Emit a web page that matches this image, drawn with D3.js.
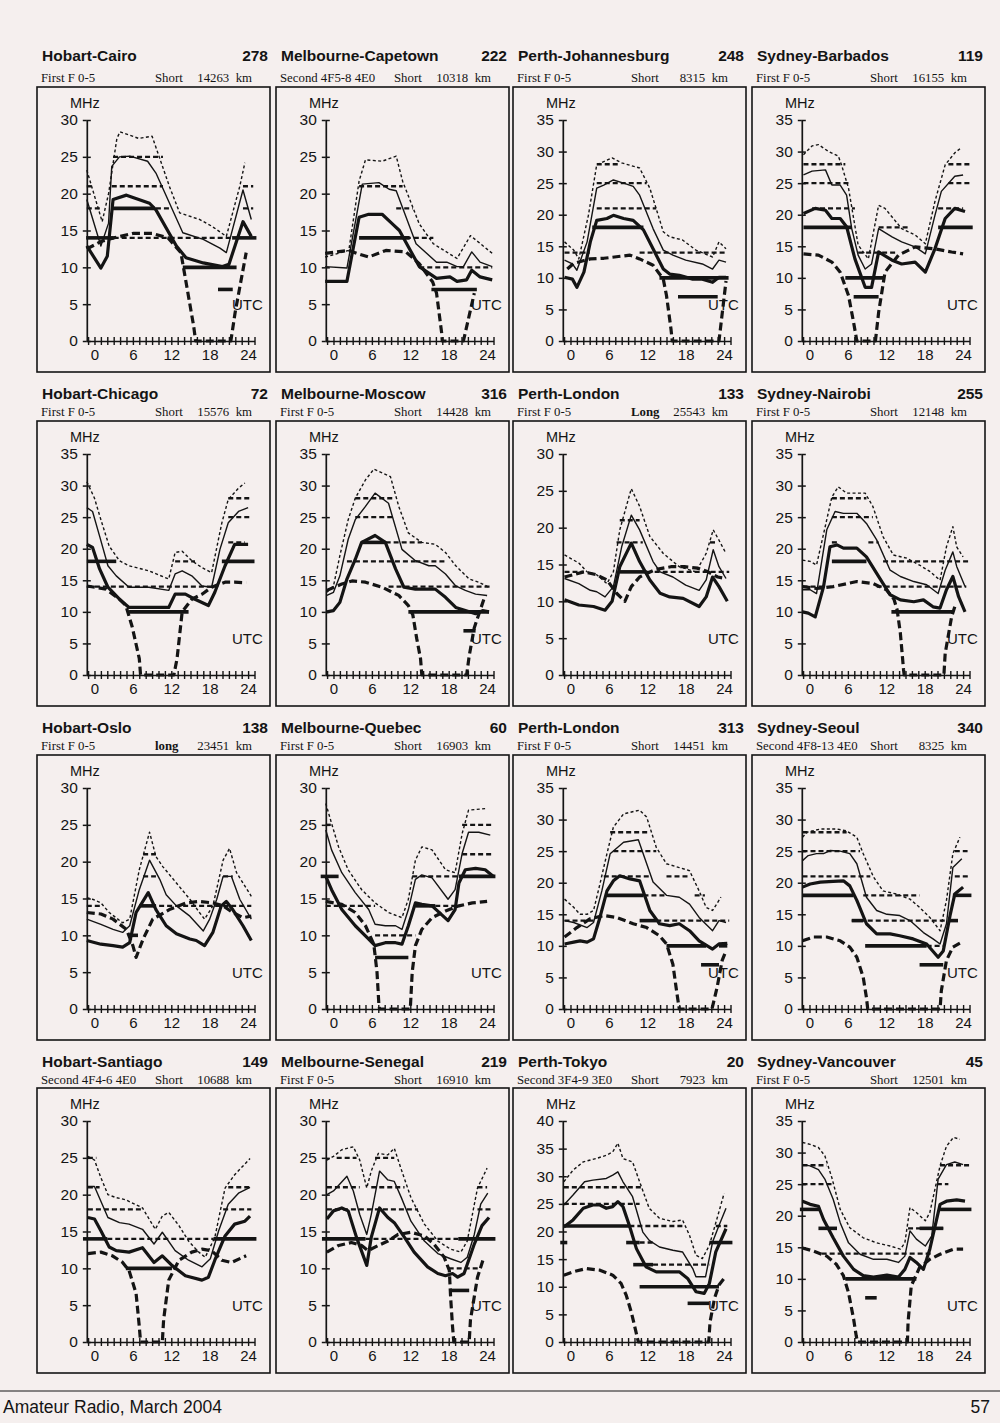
<!DOCTYPE html>
<html>
<head>
<meta charset="utf-8">
<script src="https://cdn.jsdelivr.net/npm/d3@7"></script>
<style>
  body { margin: 0; background: #f5efee; }
  svg { display: block; }
</style>
</head>
<body>
<svg id="page"></svg>
<script>
// ---- Panel labels ----
const circuits = ["Hobart-Cairo", "Melbourne-Capetown", "Perth-Johannesburg", "Sydney-Barbados",
  "Hobart-Chicago", "Melbourne-Moscow", "Perth-London", "Sydney-Nairobi",
  "Hobart-Oslo", "Melbourne-Quebec", "Perth-London", "Sydney-Seoul",
  "Hobart-Santiago", "Melbourne-Senegal", "Perth-Tokyo", "Sydney-Vancouver"]
const bearings = [278, 222, 248, 119, 72, 316, 133, 255, 138, 60, 313, 340, 149, 219, 20, 45]
const modes = ["First F 0-5", "Second 4F5-8 4E0", "First F 0-5", "First F 0-5",
  "First F 0-5", "First F 0-5", "First F 0-5", "First F 0-5",
  "First F 0-5", "First F 0-5", "First F 0-5", "Second 4F8-13 4E0",
  "Second 4F4-6 4E0", "First F 0-5", "Second 3F4-9 3E0", "First F 0-5"]
const paths = ["Short", "Short", "Short", "Short", "Short", "Short", "Long", "Short",
  "long", "Short", "Short", "Short", "Short", "Short", "Short", "Short"]
const distances = [14263, 10318, 8315, 16155, 15576, 14428, 25543, 12148,
  23451, 16903, 14451, 8325, 10688, 16910, 7923, 12501]
const yMaxes = [30, 30, 35, 35, 35, 35, 30, 35, 30, 30, 35, 35, 30, 30, 40, 35]
const hourLabels = [0, 6, 12, 18, 24]

// ---- Series: [UTC hour, MHz] ----
// thin dotted (upper)
const upperDotted = [
  [[-1.2,23.2],[1.2,16.2],[2.2,20],[3.5,27.5],[4,28.4],[6.9,27.5],[9,27.8],[11.7,21],[13.3,17.4],[16.4,16.5],[18.3,15.6],[20.6,14.2],[22.7,21],[23.5,24.2]],
  [[-1.3,11.4],[2.4,12.3],[4,21.7],[5,24.6],[7.6,24.4],[9.8,25.1],[10.8,21.7],[13.4,15.9],[15.6,13.2],[19.3,11.2],[21.4,14.3],[24.8,11.9]],
  [[-0.93,15.7],[0.5,14.4],[1.3,13],[2.8,19.9],[4.1,27.9],[6.5,29],[8,28.2],[10.8,27.4],[12.4,24.2],[14.5,17.3],[15.5,16.5],[17.5,16],[19.6,14.4],[22.2,13.3],[23.2,15.7],[24.3,14.6]],
  [[-0.94,29.5],[0.4,30.9],[1.4,31.1],[3,30],[4.5,29.3],[5,27.9],[6.1,24.2],[7.6,15.2],[9.2,13],[10.8,21.5],[11.8,21],[14.4,17.8],[16.5,16.8],[18.1,15.4],[19.6,22.1],[21.2,27.9],[22.7,29.8],[23.7,30.6]],
  [[-1.19,30.6],[0,28],[1,24.6],[2.3,20.4],[3.9,18.1],[5.4,17.3],[8.5,16.5],[11.6,15.2],[12.6,19.4],[13.7,19.6],[15.2,18.1],[16.8,17],[18.3,16.2],[19.9,24.1],[20.9,27.8],[22.5,29.6],[23.5,30.4]],
  [[-1.04,13.1],[0,14.1],[1,18.9],[2.3,24.6],[3.4,28],[5,30.9],[6.3,32.6],[7.6,32],[8.9,31.4],[10.2,26.7],[11.7,22.5],[13.8,21],[15.9,20.7],[17.5,19.4],[19.1,17.3],[21.2,15.2],[22.7,14.7],[24.3,13.9]],
  [[-0.93,16.3],[1.3,15.2],[2.6,14],[4.1,13.6],[5.7,12.4],[6.7,14],[7.7,19.7],[9.5,25.3],[10.8,22.9],[12.4,18.8],[14.5,16.5],[17,14.7],[19.6,14],[21.2,16.5],[22.3,19.7],[23.2,18.3],[24.3,16.5]],
  [[-1.09,18.2],[0.1,18],[1.1,17.4],[2.7,24.6],[3.5,28.2],[4.5,29.8],[5.8,28.8],[8.7,28.8],[9.9,26.7],[11.5,21.9],[13.1,19],[15.2,18.5],[17.2,17.4],[18.8,16.4],[20.4,15],[21.4,20.3],[22.4,23.5],[23,20.3],[24,18.7]],
  [[-1.2,15.1],[-0.3,14.9],[1,14.4],[2.3,13.1],[4.4,11.7],[5.5,12.2],[7,18.9],[8.6,24],[9.6,20.7],[10.7,19.3],[12.8,17.1],[14.9,14.9],[16.4,13.1],[17.2,12.2],[18.5,14],[20.1,20.2],[21.1,21.8],[22.2,18.5],[24.5,15.3]],
  [[-1.2,27.9],[-0.3,25.2],[0.8,22],[2.3,18.9],[4.4,16.2],[6.5,14.4],[8.6,13.1],[10.7,12.4],[11.7,14.9],[12.8,20.2],[13.8,22],[15.4,21.6],[17.5,18.9],[19,18.5],[20.1,23.8],[21.1,27],[23.7,27.2]],
  [[-0.93,17.4],[0.5,16.1],[1.5,15],[2.6,15],[3.6,15.6],[4.6,19.8],[5.7,24.6],[6.7,28.8],[8.3,30.9],[10.8,31.5],[11.9,30.4],[13.4,25.6],[15,23],[17,22.4],[18.6,21.9],[20.1,18.7],[21.2,16.1],[22.2,15.6],[23.5,17.7]],
  [[-1.09,27.2],[-0.4,28],[1.7,28.5],[4.3,28.5],[5.8,28.2],[7.4,27.2],[8.4,24.6],[10,20.9],[11.5,18.7],[13.6,18.2],[15.7,17.4],[17.2,16.1],[18.8,14.5],[20.4,12.4],[21.4,17.2],[22.4,24.6],[23.5,27.2]],
  [[-1.03,25.2],[0,24.7],[1,22.3],[2.1,20],[3.4,19.6],[4.9,19.3],[7.5,18.2],[9.5,15.3],[10.6,17.1],[11.6,17.6],[13.2,15.8],[14.7,13.7],[16.3,12.2],[17.3,11.5],[18.8,14.2],[20.4,20.9],[21.9,22.7],[24.3,24.9]],
  [[-1.03,24.7],[0,25.2],[1.3,26.1],[3.1,26.5],[4.1,24.7],[5.2,20.9],[5.9,23.2],[7,25.6],[8.5,25.4],[9.5,26.3],[10.6,23.4],[12.1,19.6],[14.2,16],[16.3,13.7],[18.3,12.6],[19.9,12.2],[20.9,13.7],[22.5,20.9],[24,23.6]],
  [[-1.04,29],[0.4,31.1],[2,32.6],[4,33.2],[5.6,33.8],[6.6,34.4],[7.4,36],[8.2,33.2],[9.7,32.6],[10.8,29],[12.3,24.2],[13.9,22.4],[16,21.8],[17.5,22.1],[18.6,19.3],[19.6,15.7],[20.6,15.1],[21.7,17.5],[23.2,23.6],[24,26.9]],
  [[-1.09,31.6],[0.1,31.3],[1.4,30.8],[2.4,29.5],[3.5,26],[4.8,21],[6.3,18.1],[8.4,16.5],[10.5,15.7],[12.6,15.2],[14.2,14.7],[14.9,15.7],[15.7,21.3],[16.7,20.5],[18.1,19.2],[18.8,20.5],[20.4,27.9],[21.4,31],[22.5,32.4],[23.5,32.1]]
]

// thin solid
const medianThin = [
  [[-1.2,19.2],[1,12.9],[2.2,16],[2.7,23.7],[3.9,25],[5.5,25.1],[8.3,24.4],[9.6,22.8],[13.8,14.7],[17,13.8],[19.6,12.6],[20.6,12],[23.2,20.5],[24.5,16.5]],
  [[-1.3,10.1],[2.1,9.9],[4.5,21.3],[7.1,21.5],[8.7,20.6],[9.8,20.4],[12.9,13.2],[16.1,10.7],[17.7,10.7],[19.3,10.1],[20.3,10.1],[21.6,12.1],[22.9,10.7],[24.8,10.1]],
  [[-0.93,12.8],[0.3,12.2],[1,11.2],[2.6,15.7],[4.1,24.2],[5.2,24.7],[6.7,25.5],[8.3,25],[9.8,24.5],[10.8,23.1],[12.9,17.8],[14.5,14.4],[16,13.6],[18,12.8],[20.6,12.2],[22.2,11.4],[23.2,12.8],[24.3,12.5]],
  [[-0.94,26.3],[0.4,26.9],[2.5,27.1],[3.5,24.7],[4.8,24.7],[5.8,23.1],[6.6,17.8],[7.6,13.6],[8.7,11.4],[9.7,12.2],[10.8,17.8],[12.9,16.5],[14.4,15.7],[16.5,14.9],[18.1,13.8],[19.6,19.9],[20.6,23.7],[22.7,26.1],[24,26.3]],
  [[-1.19,26.5],[-0.3,25.9],[0.8,22],[2.1,17.3],[3.4,15.7],[5.4,13.9],[8.5,13.9],[11.6,13.4],[12.6,16],[13.7,16.5],[15.2,15.7],[16.8,14.1],[18.3,13.9],[19.6,19.9],[20.9,24.1],[22.5,25.9],[24,26.5]],
  [[-1.04,12.6],[0,13.1],[1,15.7],[2.3,21.5],[3.4,24.6],[5,26.7],[6.5,28.8],[8.6,27.2],[10.7,19.9],[12.8,18.1],[14.9,17.3],[15.9,17.3],[17.5,16],[19.1,14.1],[20.6,13.4],[22.2,12.8],[24,12.6]],
  [[-0.93,13.1],[1.3,12.4],[3.1,11.5],[4.1,11.3],[5.4,10.6],[6.7,12],[8,17.4],[9.5,21.7],[10.8,19.7],[12.9,15.4],[14,14],[16,13.3],[18,12.2],[20.1,11.5],[21.2,12.9],[22.3,17],[23.2,14.7],[24.3,13.1]],
  [[-1.09,13.5],[0.1,13.5],[1.1,12.9],[2.7,23],[4,25.9],[5.3,25.6],[7.4,25.6],[8.9,24],[10.5,21.4],[12.6,16.6],[14.2,15.6],[16.3,14.8],[18.3,14.3],[20.1,12.9],[21.2,16.6],[22.4,19.5],[23,17.2],[24.3,14]],
  [[-1.2,12.2],[1,11.5],[2.9,10.8],[4.4,10.4],[5.5,11.3],[7,16.2],[8.6,20.2],[10.2,17.6],[11.2,15.5],[12.8,14],[14.9,12.6],[17,10.6],[18,12.2],[19.1,14.9],[20.1,18],[21.4,18],[22.7,14.9],[24.5,12.2]],
  [[-1.2,24.3],[-0.3,21.6],[1.3,18.5],[3.4,15.8],[5.5,13.5],[6.5,11.5],[8.1,11.3],[9.7,11.3],[10.7,10.8],[11.7,13.5],[12.8,17.6],[13.8,18.2],[15.4,17.8],[17.9,14.9],[19,16.2],[20.1,21.1],[21.1,24],[22.7,24],[24.5,23.6]],
  [[-0.93,14],[0.5,13.7],[2.6,12.9],[3.6,13.7],[4.9,18.7],[6.2,24.6],[8.3,26.4],[10.6,26.8],[12.9,20.1],[15,18],[17,17.7],[18.6,16.6],[20.1,14.5],[22.2,12.4],[23.2,14],[24.3,13.7]],
  [[-1.09,23.5],[-0.2,24.3],[1.1,24.6],[2.2,24.6],[3.2,25.1],[4.8,25],[6.3,24.6],[7.4,23],[8.9,17.7],[10.5,15.6],[12.1,15],[14.1,14.8],[15.7,14],[17.8,12.1],[19.3,11.1],[20.4,10.3],[21.4,13.5],[22.4,22.4],[23.8,23.8]],
  [[-1.03,21.1],[0,21.1],[1,19.1],[2.1,16.9],[3.9,16.2],[5.4,16],[7.5,15.3],[9.3,13.3],[10.6,14.9],[12.6,12.4],[14.7,11.1],[16.8,10.2],[18.1,11.3],[19.4,15.1],[20.9,18.7],[22.5,20.2],[24.3,21]],
  [[-1.03,20],[0,20.5],[2.1,22.5],[3.1,20.5],[4.1,17.3],[5.2,14.6],[5.9,17.3],[7.2,23.2],[8.5,22],[9.5,21.8],[10.6,19.6],[12.1,16.4],[14.2,13.7],[16.3,12],[18.3,11.3],[19.9,10.8],[20.9,11.5],[22,14.6],[23,18.7],[24.1,20.2]],
  [[-1.04,24.8],[0.4,26.6],[2.2,29],[3.5,29.3],[5.6,29.6],[6.6,30.2],[7.4,30.8],[8.2,29],[9.7,26.3],[11.3,19.9],[12.3,18.4],[13.9,17.2],[16,16.6],[17.5,16.3],[19.1,13.3],[19.6,11.8],[21.1,11.8],[22.2,18.1],[23.2,21.1],[24.3,24.2]],
  [[-1.09,28.1],[0.1,27.9],[1.4,27.3],[2.4,25.8],[3.7,22.6],[4.8,18.9],[6.1,15.7],[7.9,13.9],[10,13.1],[12.1,13.1],[13.9,12.6],[14.9,13.6],[15.7,17.6],[16.7,16.3],[18.1,15.2],[19.1,16.8],[20.1,25.8],[21.4,28.1],[22.7,28.5],[24,28.1]]
]

// thick solid
const thickSolid = [
  [[-1.2,12.9],[1,9.9],[2,11.5],[2.9,19.2],[5,19.8],[8.6,18.7],[9.6,17.8],[12.8,12.9],[14.3,11.3],[17,10.6],[20,10.1],[21,10.4],[23.2,16.2],[24.5,14.2]],
  [[-1.3,8.1],[2.1,8.1],[4,16.8],[5.5,17.2],[7.6,17.2],[9.2,15.9],[10.3,15],[13.4,10.1],[16.1,8.5],[18.2,8.7],[19.3,8.1],[20.8,8.3],[21.6,9.6],[22.9,8.7],[24.8,8.3]],
  [[-0.93,10.1],[0.3,9.8],[1,8.5],[2.1,10.9],[3.1,15.7],[4.1,19.1],[5.7,19.4],[6.7,19.9],[8.3,19.4],[9.8,19.1],[11.4,17.6],[12.9,14.6],[14.5,11.4],[15.5,10.6],[17,10.4],[19.1,9.8],[20.6,9.8],[22.2,9.3],[23.2,10.1],[24.3,10.1]],
  [[-0.94,20.2],[0.9,21],[2.5,20.7],[3.5,19.4],[4.8,19.4],[5.8,18.1],[7.1,13],[8.7,8.5],[9.7,8.5],[10.8,14.1],[12.9,12.8],[14.4,12.2],[16.5,12.5],[18.1,10.9],[19.6,14.6],[21.2,19.4],[22.7,21],[24.3,20.5]],
  [[-1.19,20.7],[-0.3,20.2],[0.8,16.8],[2.1,13.9],[3.9,12],[5.4,10.7],[8.5,10.7],[11.6,10.7],[12.6,12.8],[14.2,12.8],[15.7,12],[17.8,11],[18.8,13.1],[20.4,17.3],[21.9,20.7],[24,20.7]],
  [[-1.04,10],[0,10.2],[1,11.5],[2.1,15.2],[3.4,18.3],[4.4,21],[6.5,22.1],[8.1,21],[9.7,16.8],[11,13.9],[12.8,13.6],[15.9,13.6],[17.5,12.3],[19.1,10.7],[20.6,10.2],[22.2,9.7],[23.3,10.2],[24.3,10]],
  [[-0.93,10.2],[1.3,9.5],[3.6,9.3],[5.4,8.8],[6.5,10],[7.7,14.7],[9.5,17.9],[10.8,15.4],[12.4,12.9],[14,11.1],[15.5,10.6],[17.6,10.4],[20.1,9.3],[21.2,10.6],[22.2,13.3],[23.2,12],[24.5,10]],
  [[-1.09,10],[-0.2,9.8],[0.9,9.2],[2.2,14],[3.2,20.3],[4.3,20.6],[5.3,20.1],[7.4,20.1],[8.9,18.7],[10.5,16.1],[12.6,12.7],[14.2,11.9],[16.3,11.6],[17.8,11.9],[19.3,10.8],[20.4,10.6],[21.4,13.5],[22.4,15.6],[23.3,12.4],[24.3,10]],
  [[-1.2,9.3],[1,8.8],[2.9,8.6],[4.4,8.4],[5.5,9],[6.5,13.1],[8.4,15.8],[9.6,13.5],[11.2,11.3],[12.8,10.2],[14.9,9.5],[15.9,9.3],[17.2,8.6],[18.5,10.4],[19.8,14],[20.6,14.6],[21.6,13.5],[23.2,11.3],[24.5,9.3]],
  [[-1.2,18],[-0.3,16.2],[1.3,13.5],[3.4,11.3],[5.5,9.5],[6.5,8.6],[8.1,9],[9.7,9],[10.7,8.8],[11.7,11.3],[12.8,14.4],[13.8,14.2],[15.4,14],[17.9,12],[19,13.5],[19.6,17.1],[20.6,18.9],[22.2,19.1],[23.7,18.9],[25,18]],
  [[-0.93,10.3],[0.5,10.6],[1.5,10.8],[2.6,10.6],[3.6,11.1],[4.6,14.5],[5.7,18.7],[6.7,20.3],[7.7,21.1],[9.3,20.6],[10.8,20.3],[12.4,15.6],[13.9,13.5],[15.5,13.2],[17,13.5],[18.6,12.4],[20.1,10.8],[22.2,9.5],[23.2,10.3],[24.5,10.4]],
  [[-1.09,19.3],[0.1,19.8],[1.7,20.1],[3.7,20.2],[5.3,20.3],[6.3,19.5],[7.4,17.2],[8.9,13.5],[10.5,11.9],[12.6,11.9],[14.1,11.6],[16.2,11.1],[18.3,10.3],[20.1,8.2],[20.9,9.2],[22,15],[22.7,18.2],[24,19.3]],
  [[-1.03,16.9],[0,16.7],[1,15.1],[2.3,12.9],[3.4,12.4],[5.4,12.2],[7.5,12.8],[9.3,10.8],[10.6,11.7],[12.1,10.4],[14.2,9],[16.8,8.4],[17.8,8.8],[18.8,11.1],[20.4,14.4],[21.9,16],[23.5,16.4],[24.3,17.1]],
  [[-1.03,16.7],[0,17.8],[1.3,18.2],[2.3,17.8],[3.6,14.2],[5.2,10.4],[5.9,14.2],[7.2,18.2],[8.5,16.9],[9.5,16.2],[11.1,14.2],[12.6,12.2],[14.7,10.2],[16.3,9.3],[17.5,9],[18.6,9.3],[19.4,8.8],[20.4,9.3],[22,13.3],[23.2,15.8],[24.3,16.9]],
  [[-1.04,20.8],[0.4,22.1],[2,24.2],[3.5,24.8],[4.6,24.8],[5.6,24.2],[6.6,24.5],[7.4,25.4],[8.2,24.5],[9.2,21.1],[10.3,16.9],[11.8,13.6],[13.4,12.7],[14.9,12.7],[17,12.7],[18.3,11.5],[19.6,9.1],[20.9,8.8],[21.7,10.6],[22.7,16.3],[24.3,20.5]],
  [[-1.09,22.3],[0.1,21.8],[1.4,21.5],[2.2,19.4],[3.7,16.5],[5.3,13.6],[6.9,11.5],[8.4,10.5],[10,10.3],[12.1,10.6],[13.9,10.3],[14.9,11.5],[15.7,13.4],[16.7,12.6],[17.8,11.5],[18.8,14.7],[20.4,21.8],[21.4,22.3],[23,22.5],[24.3,22.3]]
]

// thick long-dashed (lowest)
const lowDashed = [
  [[-1.2,12.5],[1,13.5],[3,14],[6,14.6],[9,14.6],[11.5,14],[13.5,12],[14.3,8],[15.5,2],[15.8,0],[21.3,0],[22,4],[23.7,12]],
  [[-1.3,11.9],[2.4,12.3],[4,11.8],[5.5,11.4],[8.2,12.3],[11.3,12.1],[13.4,10.5],[15.5,8],[16.1,6.5],[16.9,1.1],[17,0],[20.3,0],[22,6.5]],
  [[-0.5,11.4],[0.5,12.3],[2,12.7],[3.1,13],[5.2,13.1],[9.3,13.6],[10.8,13],[12.9,12],[14.5,9.8],[15,7.2],[15.7,1.9],[15.9,0],[23.2,0],[24.3,9.5]],
  [[-0.94,13.8],[1.4,13.6],[3.5,12.5],[4.8,10.9],[6.1,7.2],[6.9,2.9],[7.4,0],[10.3,0],[10.8,4.5],[11.8,10.9],[13.9,13.6],[16.5,14.9],[19.6,14.6],[22.2,14.1],[24,13.8]],
  [[-1.19,14.1],[1.8,13.6],[3.9,12],[4.9,11],[5.9,7.6],[7,2.6],[7.2,0],[12.4,0],[12.9,2.6],[13.7,10],[15.2,12],[16.8,12.8],[18.3,13.9],[20.4,14.7],[21.9,14.7],[23.7,14.6]],
  [[-1.04,13.4],[1.3,14.4],[2.9,14.9],[5,14.7],[7.6,13.9],[10.2,12.6],[11.7,11],[12.4,9.5],[13,5.8],[13.6,2.6],[13.8,0],[20.8,0],[21.2,3],[22,7.5],[23.7,12.6]],
  [[-0.93,13.3],[2.1,14],[4.1,13.6],[5.7,12.9],[7.2,11.1],[8.5,10],[9.5,12],[10.8,13.3],[13.2,14.3],[15.7,14.7],[17.8,14.7],[19.9,14.5],[21.5,14],[23,13.3],[24.3,13.1]],
  [[-1.09,14],[1.1,13.7],[3.7,14],[7.4,14.8],[9.9,14.5],[12,13.5],[13.2,12],[13.7,10.3],[14.2,6.6],[14.7,0.8],[14.8,0],[21,0],[21.2,3.4],[22.2,9.2],[22.7,10.8]],
  [[-1.2,13.1],[1,12.9],[2.9,12.2],[5,10.8],[6,8.6],[6.5,7],[7.6,9.5],[9.1,12.2],[11.7,13.5],[14.3,14.4],[16.4,14.6],[18.5,14.4],[20.1,14],[21.6,13.1],[23.2,12.4],[24.5,12.6]],
  [[-1.2,14.6],[1.3,14.2],[3.4,13.1],[5,11.3],[6.3,8.8],[6.8,5],[7.1,0.5],[7.2,0],[12,0],[12.3,5],[12.8,8.6],[13.8,10.8],[15.4,12.4],[17.5,13.3],[19.6,14],[21.7,14.4],[24,14.6]],
  [[-0.93,11.4],[1,12.9],[3.1,14.3],[5.2,14.8],[7.2,14.5],[9.8,13.5],[11.9,12.9],[13.9,11.6],[15,10.3],[16,7.1],[16.5,3.4],[16.8,1.3],[17,0],[22.1,0],[22.9,3.4],[23.7,7.7],[24.3,9.2]],
  [[-1.09,10.8],[0.6,11.4],[2.7,11.4],[4.8,10.8],[6.3,9.8],[7.4,8.2],[8.4,5],[8.9,1.8],[9.1,0],[20.4,0],[20.6,2.9],[21.4,7.7],[22.4,9.8],[23.8,10.6]],
  [[-1.03,12],[1,12.2],[2.8,11.7],[4.4,10.8],[5.4,9.7],[6.5,6.6],[7,2.1],[7.2,0],[10.6,0],[10.8,3],[11.6,8.4],[13.2,11.1],[15.2,12.2],[16.8,12.6],[18.3,12.4],[19.9,11.1],[21.4,10.8],[23.7,11.7]],
  [[-1.03,12.2],[0.8,13.1],[2.8,13.5],[4.4,13.1],[5.4,12.4],[7,13.1],[8.5,13.7],[10.1,14.6],[12.1,14.9],[14.2,14.4],[15.7,13.3],[17.3,11.5],[18.1,9.7],[18.3,6.1],[18.6,2.1],[18.8,0],[21.2,0],[21.4,3],[22.5,8.8],[23.5,11.5]],
  [[-1.04,12.1],[0.4,12.7],[2.5,13.3],[4.6,13],[6.6,12.1],[7.9,10.6],[8.7,8.5],[9.5,5.4],[10,3],[10.6,0],[21.6,0],[21.8,3.6],[22.5,7.9],[23.2,10.3],[24,11.5]],
  [[-1.09,14.9],[0.6,14.4],[2.7,13.6],[4.2,12.3],[5.3,10.5],[6.1,7.8],[6.9,3.6],[7.3,1],[7.5,0],[15.3,0],[15.4,3.1],[15.9,8.9],[17.2,11.8],[18.8,13.1],[20.4,13.9],[22.5,14.7],[24,14.7]]
]

// band openings: [MHz, from hour, to hour]
const bandsDashed = [
  [[25,2.9,10.7],[21,2.7,10.7],[18,-1.2,1],[21,-1.2,-0.2],[18,9.6,11.7],[14,3,21.5],[21,23.2,24.8],[18,23.2,24.8]],
  [[21,4,10.8],[18,9.8,12.4],[14,11.3,15.6],[10,13.4,24.8]],
  [[14,-0.93,3],[28,4.1,7.5],[25,4.1,11.9],[21,4.1,13.4],[14,10.8,24.5]],
  [[28,-0.94,5.6],[28,21.7,25.3],[25,-0.94,6.1],[25,21.7,25.3],[21,0.4,7.1],[21,20.1,24],[18,10.8,15.4],[14,7.6,13.4]],
  [[28,20.9,24.5],[25,20.9,24.5],[21,20.9,23.5],[14,-1.19,18.8],[18,12.6,15.7]],
  [[28,3.4,9.6],[25,3.4,9.4],[21,4.4,13.8],[18,2.1,12.8],[18,12.8,17.8],[14,8.6,24.8]],
  [[21,7.7,10.8],[18,7.2,11.3],[14,11.9,24.8],[14,-0.93,2.1],[18,21.8,23]],
  [[28,3.5,8.9],[25,3.5,9.9],[21,3.5,4.3],[21,9.2,10.8],[18,11.5,24.8],[14,-1.09,2.6],[14,10.5,24.5]],
  [[14,-1.2,1.3],[14,7.6,24.5],[18,7.6,9.6],[21,7.6,9.6],[18,20.1,21.6]],
  [[25,-1.2,0],[14,-1.2,6.5],[14,15.9,19.6],[10,6.5,12.8],[18,12.3,20.1],[21,20.1,25],[25,20.1,25]],
  [[28,6.2,12.4],[25,6.7,13.4],[21,5.2,12.4],[21,15,18.6],[18,11.4,15],[18,19.4,21],[14,-0.93,3.6],[14,13.4,24.8]],
  [[28,-1.09,5.8],[25,-1.09,7.9],[25,22.7,24.7],[21,-1.09,9.5],[21,22.7,24.9],[18,8.4,17.2],[14,6.6,22.9],[10,18.3,20.9]],
  [[25,-1.03,0.3],[21,-1.03,0.8],[21,20.9,24.5],[18,-1.03,7.7],[18,20.1,24.5],[14,2,18.6]],
  [[25,0.5,3.6],[25,6.5,9.5],[21,-1.03,4.1],[21,5.9,11.1],[21,22.5,24],[18,-1.03,13.2],[18,22.5,24.8],[14,5,19.5],[10,18,23]],
  [[28,-1.04,11.3],[25,-1.04,10.8],[21,9.2,17.5],[21,22.7,24.5],[18,10.8,12.9],[14,12.9,21.7]],
  [[28,-1.09,2.7],[28,20.4,25],[25,-1.09,3.7],[25,19.9,21.7],[18,15.4,20.9],[14,1.9,19.3]]
]
const bandsSolid = [
  [[18,2.9,9.4],[14,-1.3,3],[14,21.5,25.3],[10,13.8,22.2],[7,19.3,21.6]],
  [[14,4,11.9],[7,15.3,22.4]],
  [[18,3.4,11.4],[10,13.9,24.7],[7,16.8,23]],
  [[18,-0.94,6.6],[18,20.1,25.5],[10,5.6,11.8],[7,6.9,10.8]],
  [[18,-1.19,3.4],[18,19.9,25],[10,5.4,14.7]],
  [[21,4.4,8.1],[10,11.7,24.3],[7,20.3,22.2]],
  [[14,7.7,11.9]],
  [[18,3.5,8.9],[10,12.8,22.4]],
  [[14,7,9.6],[10,5.3,6.8]],
  [[18,-2,0.8],[14,12.8,15.9],[7,6.5,11.7],[18,19.6,25.3]],
  [[18,5.7,11.4],[14,10.8,13.4],[10,15,21.2],[10,23.2,24.5],[7,20.4,23.2]],
  [[18,-1.09,6.9],[18,22.4,25.3],[14,6.6,8.4],[14,21.9,23.2],[10,8.7,18.3],[7,17.2,20.9]],
  [[14,-1.8,2],[14,18.6,25.3],[10,4.9,12.1]],
  [[14,-1.8,5],[14,19.5,25.3],[7,18.3,21.2]],
  [[21,-1.04,9.2],[18,-1.6,-0.5],[18,8.7,10.8],[18,21.7,25.3],[14,9.8,12.9],[10,10.8,23.2],[7,18.3,21.7]],
  [[21,-1.5,1.7],[21,20.4,25.3],[18,1.4,4.3],[18,17.2,20.9],[10,5.6,16.7],[7,8.7,10.5]]
]

// ---- Layout ----
const W = 1000, H = 1423
const ink = "#141414"
const sans = "'Liberation Sans', Arial, sans-serif"
const serif = "'Liberation Serif', 'Times New Roman', serif"

const colLeft = [37, 276, 513, 752]
const rowTop = [87, 421, 755, 1088]
const titleY = [61, 399, 733, 1067]
const subY = [82, 416, 750, 1084]
const boxW = 233, boxH = 285

const svg = d3.select("#page")
  .attr("width", W)
  .attr("height", H)

svg.append("rect")
  .attr("width", W)
  .attr("height", H)
  .attr("fill", "#f5efee")

circuits.forEach((name, i) => {
  const col = i % 4, row = Math.floor(i / 4)
  const left = colLeft[col], top = rowTop[row]
  const g = svg.append("g")

  // Header
  g.append("text")
    .attr("x", left + 5).attr("y", titleY[row])
    .attr("font-family", sans).attr("font-weight", "bold").attr("font-size", 15.5)
    .attr("fill", ink)
    .text(name)
  g.append("text")
    .attr("x", left + boxW - 2).attr("y", titleY[row])
    .attr("text-anchor", "end")
    .attr("font-family", sans).attr("font-weight", "bold").attr("font-size", 15.5)
    .attr("fill", ink)
    .text(bearings[i])
  g.append("text")
    .attr("x", left + 4).attr("y", subY[row])
    .attr("font-family", serif).attr("font-size", 12.8)
    .attr("fill", ink)
    .text(modes[i])
  g.append("text")
    .attr("x", left + 118).attr("y", subY[row])
    .attr("font-family", serif).attr("font-size", 12.8)
    .attr("font-weight", paths[i] === "Short" ? "normal" : "bold")
    .attr("fill", ink)
    .text(paths[i])
  g.append("text")
    .attr("x", left + boxW - 18).attr("y", subY[row])
    .attr("text-anchor", "end")
    .attr("font-family", serif).attr("font-size", 12.8)
    .attr("fill", ink)
    .text(`${distances[i]}\u00a0\u00a0km`)

  // Box
  g.append("rect")
    .attr("x", left).attr("y", top)
    .attr("width", boxW).attr("height", boxH)
    .attr("fill", "none").attr("stroke", ink).attr("stroke-width", 1.6)

  // Scales
  const x = d3.scaleLinear()
    .domain([-1.2, 25])
    .range([left + 49.8, left + 217.5])
  const y = d3.scaleLinear()
    .domain([0, yMaxes[i]])
    .range([top + 254, top + 33])

  // Y axis with crossing ticks
  g.append("g")
    .attr("transform", `translate(${x(-1.2)},0)`)
    .call(d3.axisLeft(y)
      .tickValues(d3.range(0, yMaxes[i] + 1, 5))
      .tickSizeInner(4).tickSizeOuter(0).tickPadding(5))
    .call(a => a.select(".domain").attr("stroke", ink).attr("stroke-width", 1.7))
    .call(a => a.selectAll(".tick line").attr("stroke", ink).attr("stroke-width", 1.5))
    .call(a => a.selectAll(".tick line").clone().attr("x2", 4))
    .call(a => a.selectAll(".tick text")
      .attr("font-family", sans).attr("font-size", 15.5).attr("fill", ink))

  // X axis with crossing ticks
  g.append("g")
    .attr("transform", `translate(0,${y(0)})`)
    .call(d3.axisBottom(x)
      .tickValues(d3.range(-1, 26))
      .tickFormat(d => hourLabels.includes(d) ? d : "")
      .tickSizeInner(4).tickSizeOuter(0).tickPadding(4))
    .call(a => a.select(".domain").attr("stroke", ink).attr("stroke-width", 1.7))
    .call(a => a.selectAll(".tick line").attr("stroke", ink).attr("stroke-width", 1.4))
    .call(a => a.selectAll(".tick line").clone().attr("y2", -4))
    .call(a => a.selectAll(".tick text")
      .attr("font-family", sans).attr("font-size", 15).attr("fill", ink))

  g.append("text")
    .attr("x", x(-1.2) - 2).attr("y", top + 21)
    .attr("text-anchor", "middle")
    .attr("font-family", sans).attr("font-size", 14.5).attr("fill", ink)
    .text("MHz")
  g.append("text")
    .attr("x", left + 195).attr("y", y(0) - 31)
    .attr("font-family", sans).attr("font-size", 15).attr("fill", ink)
    .text("UTC")

  const line = d3.line()
    .x(d => x(d[0]))
    .y(d => y(d[1]))

  // Band segments
  g.append("g")
    .selectAll("line")
    .data(bandsDashed[i])
    .join("line")
    .attr("x1", d => x(d[1])).attr("x2", d => x(d[2]))
    .attr("y1", d => y(d[0])).attr("y2", d => y(d[0]))
    .attr("stroke", ink).attr("stroke-width", 2.4)
    .attr("stroke-dasharray", "5,3")
  g.append("g")
    .selectAll("line")
    .data(bandsSolid[i])
    .join("line")
    .attr("x1", d => x(d[1])).attr("x2", d => x(d[2]))
    .attr("y1", d => y(d[0])).attr("y2", d => y(d[0]))
    .attr("stroke", ink).attr("stroke-width", 3.6)

  // Series lines
  const series = [
    { data: upperDotted[i], width: 1.4, dash: "3,2.4" },
    { data: medianThin[i], width: 1.4, dash: null },
    { data: thickSolid[i], width: 3.2, dash: null },
    { data: lowDashed[i], width: 3.2, dash: "8,4" }
  ]
  series.forEach(s => {
    g.append("path")
      .attr("d", line(s.data))
      .attr("fill", "none")
      .attr("stroke", ink)
      .attr("stroke-width", s.width)
      .attr("stroke-linejoin", "round")
      .attr("stroke-dasharray", s.dash)
  })
})

// Footer
svg.append("line")
  .attr("x1", 0).attr("x2", W)
  .attr("y1", 1391).attr("y2", 1391)
  .attr("stroke", ink).attr("stroke-width", 1)
svg.append("text")
  .attr("x", 3).attr("y", 1413)
  .attr("font-family", sans).attr("font-size", 17.5).attr("fill", ink)
  .text("Amateur Radio, March 2004")
svg.append("text")
  .attr("x", 990).attr("y", 1413)
  .attr("text-anchor", "end")
  .attr("font-family", sans).attr("font-size", 17.5).attr("fill", ink)
  .text("57")
</script>
</body>
</html>
